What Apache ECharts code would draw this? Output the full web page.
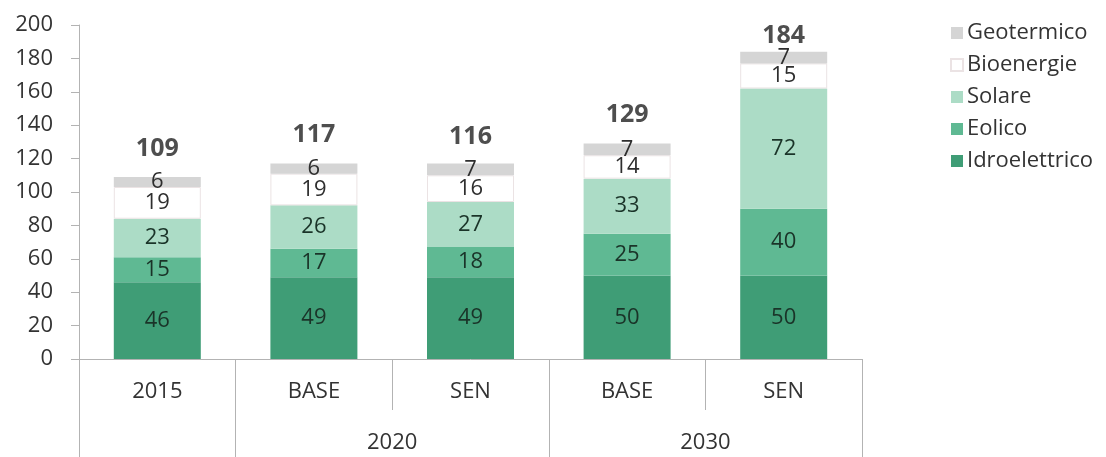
<!DOCTYPE html>
<html>
<head>
<meta charset="utf-8">
<script src="https://cdn.jsdelivr.net/npm/echarts@6/dist/echarts.min.js"></script>
<style>
  html, body { margin: 0; padding: 0; background: #ffffff; }
  #chart { width: 1106px; height: 457px; }
</style>
</head>
<body>
<div id="chart"></div>
<script>
// Scenario columns (first level of the category axis)
const categories = ['2015', 'BASE', 'SEN', 'BASE', 'SEN'];
// Second level: half-category slots, group names sit on the slot at each group's centre
const groupSlots = ['', '', '', '', '2020', '', '', '', '2030', '', ''];
// Slots where the long group dividers are drawn
const groupDividers = [0, 2, 6, 10];

// Installed capacity by source
const idroelettrico = [46, 49, 49, 50, 50];
const eolico        = [15, 17, 18, 25, 40];
const solare        = [23, 26, 27, 33, 72];
const bioenergie    = [19, 19, 16, 14, 15];
const geotermico    = [6, 6, 7, 7, 7];
const totals        = [109, 117, 116, 129, 184];

const yTicks = { min: 0, max: 200, interval: 20 };

const FONT = '"Open Sans", "Noto Sans", sans-serif';
const AXIS_COLOR = '#b3b3b3';
const TEXT_COLOR = '#333333';

function segment(name, data, color, textColor, extra) {
  return Object.assign({
    name: name,
    type: 'bar',
    stack: 'total',
    data: data,
    barWidth: 87,
    itemStyle: { color: color },
    label: {
      show: true,
      position: 'inside',
      fontFamily: FONT,
      fontSize: 22,
      color: textColor
    },
    emphasis: { disabled: true }
  }, extra || {});
}

const chart = echarts.init(document.getElementById('chart'), null, { renderer: 'canvas' });

chart.setOption({
  animation: false,
  backgroundColor: '#ffffff',
  textStyle: { fontFamily: FONT },
  grid: { left: 79, right: 244, top: 25, bottom: 98, containLabel: false },
  legend: {
    orient: 'vertical',
    left: 945,
    top: 17,
    icon: 'rect',
    itemWidth: 12,
    itemHeight: 12,
    itemGap: 10,
    data: ['Geotermico', 'Bioenergie', 'Solare', 'Eolico', 'Idroelettrico'],
    textStyle: { fontFamily: FONT, fontSize: 22, color: TEXT_COLOR, lineHeight: 22, padding: [0, 0, 0, -1] }
  },
  xAxis: [
    {
      type: 'category',
      data: categories,
      boundaryGap: true,
      axisLine: { show: true, lineStyle: { color: AXIS_COLOR, width: 1 } },
      axisTick: { show: true, interval: 0, length: 51, lineStyle: { color: AXIS_COLOR } },
      axisLabel: { interval: 0, margin: 22, fontFamily: FONT, fontSize: 22, color: TEXT_COLOR }
    },
    {
      type: 'category',
      data: groupSlots,
      boundaryGap: false,
      position: 'bottom',
      min: 0,
      max: groupSlots.length - 1,
      axisLine: { show: false },
      axisTick: {
        show: true,
        length: 110,
        interval: function (index) { return groupDividers.indexOf(index) !== -1; },
        lineStyle: { color: AXIS_COLOR }
      },
      axisLabel: { interval: 0, margin: 73, fontFamily: FONT, fontSize: 22, color: TEXT_COLOR },
      splitLine: { show: false }
    }
  ],
  yAxis: {
    type: 'value',
    min: yTicks.min,
    max: yTicks.max,
    interval: yTicks.interval,
    axisLine: { show: true, lineStyle: { color: AXIS_COLOR } },
    axisTick: { show: true, length: 8, lineStyle: { color: AXIS_COLOR } },
    axisLabel: { margin: 26, fontFamily: FONT, fontSize: 22, color: TEXT_COLOR },
    splitLine: { show: false }
  },
  series: [
    segment('Idroelettrico', idroelettrico, '#3f9d76', '#1a3328'),
    segment('Eolico', eolico, '#5fb993', '#1a3328'),
    segment('Solare', solare, '#acdcc6', '#1a3328'),
    segment('Bioenergie', bioenergie, '#ffffff', '#2e2e2e', {
      itemStyle: { color: '#ffffff', borderColor: '#ebe3e4', borderWidth: 1 }
    }),
    segment('Geotermico', geotermico, '#d5d5d5', '#2e2e2e'),
    {
      name: 'Totale',
      type: 'scatter',
      data: totals.map(function (v, i) {
        return i === totals.length - 1 ? { value: v, label: { distance: 3 } } : v;
      }),
      symbolSize: 0,
      silent: true,
      label: {
        show: true,
        position: 'top',
        distance: 16,
        fontFamily: FONT,
        fontSize: 25,
        fontWeight: 'bold',
        color: '#222222'
      },
      z: 5
    }
  ]
});
</script>
</body>
</html>
